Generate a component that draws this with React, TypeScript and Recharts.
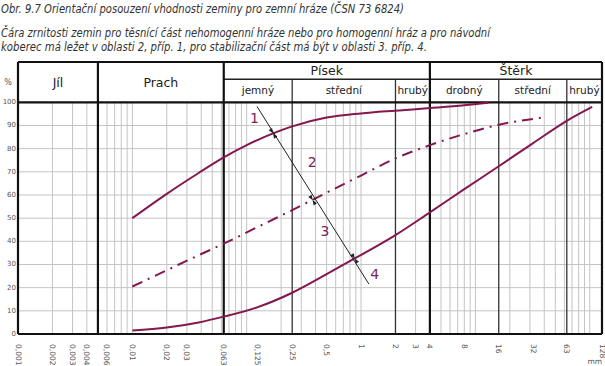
import {
  ComposedChart,
  Line,
  XAxis,
  YAxis,
  CartesianGrid,
  ReferenceLine,
  ReferenceArea,
  ReferenceDot,
} from 'recharts';

// grain size (mm) / passing (%)
const c1X = [0.01, 0.02, 0.038, 0.063, 0.1, 0.17, 0.25, 0.5, 1, 2, 4, 8, 13];
const c1Y = [50, 60.5, 69.5, 76.2, 81.5, 86.6, 89.6, 93.4, 95.2, 96.4, 97.5, 98.7, 99.8];
const c2X = [0.01, 0.02, 0.038, 0.063, 0.125, 0.25, 0.5, 1, 2, 4, 8, 16, 40];
const c2Y = [20.5, 27.5, 34, 39, 46.2, 53.5, 61, 68.4, 75.8, 81.5, 86.3, 90.3, 93.5];
const c3X = [0.01, 0.02, 0.038, 0.063, 0.125, 0.25, 0.5, 0.88, 2, 4, 8, 16, 32, 63, 105];
const c3Y = [1.5, 2.8, 5, 7.5, 11.6, 17.8, 25.8, 32.6, 42.7, 52.5, 62.5, 72.4, 82.4, 92, 98];

const xTicks = [0.001, 0.002, 0.003, 0.004, 0.006, 0.01, 0.02, 0.03, 0.063, 0.125, 0.25, 0.5, 1, 2, 3, 4, 8, 16, 32, 63, 128];
const yTicks = [0, 10, 20, 30, 40, 50, 60, 70, 80, 90, 100];

const headLabels = ['Jíl', 'Prach', 'Písek', 'Štěrk'];
const headBounds = [0.001, 0.005, 0.063, 4, 128];
const subLabels = ['jemný', 'střední', 'hrubý', 'drobný', 'střední', 'hrubý'];
const subBounds = [0.063, 0.25, 2, 4, 16, 63, 128];

// diagonal line and where it crosses the curves
const diagX = [0.123, 1.17];
const diagY = [98.2, 21.6];
const crossX = [0.17, 0.377, 0.88];
const crossY = [86.6, 57.8, 32.6];
const zoneLabels = ['1', '2', '3', '4'];
const zoneX = [0.117, 0.375, 0.484, 1.32];
const zoneY = [93.4, 74.4, 44.5, 25.8];

const TOP = 117.4;
const SUB = 110;
const COLOR = '#85174f';

const toRows = (xs: number[], ys: number[]) => xs.map((x, i) => ({ x, y: ys[i] }));
const curve1 = toRows(c1X, c1Y);
const curve2 = toRows(c2X, c2Y);
const curve3 = toRows(c3X, c3Y);

const gridX: number[] = [];
[0.001, 0.01, 0.1, 1, 10, 100].forEach((d) => {
  for (let k = 1; k <= 9; k++) {
    const v = +(d * k).toPrecision(3);
    if (v < 128) gridX.push(v);
  }
});

const XTick = ({ x, y, payload }: any) => (
  <text
    transform={`translate(${x},${y + 8}) rotate(90)`}
    textAnchor="start"
    dominantBaseline="central"
    fontSize={7.5}
    fill="#555"
  >
    {String(payload.value).replace('.', ',')}
  </text>
);

const YTick = ({ y, payload }: any) => (
  <text x={16} y={y} textAnchor="end" dominantBaseline="central" fontSize={7} fill="#555">
    {payload.value}
  </text>
);

const ANG = Math.atan2(1.59, 1);
const ArrowPair = ({ cx, cy }: any) => {
  const ux = Math.cos(ANG);
  const uy = Math.sin(ANG);
  const px = -uy;
  const py = ux;
  const tri = (s: number) => {
    const bx = cx + s * 5 * ux;
    const by = cy + s * 5 * uy;
    return `${cx},${cy} ${bx + 2 * px},${by + 2 * py} ${bx - 2 * px},${by - 2 * py}`;
  };
  return (
    <g>
      <polygon points={tri(-1)} fill="#222" />
      <polygon points={tri(1)} fill="#222" />
    </g>
  );
};

const ZoneLabel = (text: string) => ({ cx, cy }: any) => (
  <text x={cx} y={cy} textAnchor="middle" dominantBaseline="central" fontSize={14} fill="#7d2352">
    {text}
  </text>
);

export default function App() {
  return (
    <div style={{ position: 'absolute', left: 0, top: 0, width: 605, height: 366, background: '#fff' }}>
      <svg width={605} height={60} style={{ position: 'absolute', left: 0, top: 0 }} fontFamily="DejaVu Sans" fontStyle="italic" fill="#333">
        <text x={1} y={13} fontSize={12} textLength={403} lengthAdjust="spacingAndGlyphs">
          Obr. 9.7 Orientační posouzení vhodnosti zeminy pro zemní hráze (ČSN 73 6824)
        </text>
        <text x={1} y={36.5} fontSize={12} textLength={489} lengthAdjust="spacingAndGlyphs">
          Čára zrnitosti zemin pro těsnící část nehomogenní hráze nebo pro homogenní hráz a pro návodní
        </text>
        <text x={1} y={50.5} fontSize={12} textLength={426} lengthAdjust="spacingAndGlyphs">
          koberec má ležet v oblasti 2, příp. 1, pro stabilizační část má být v oblasti 3. příp. 4.
        </text>
      </svg>
      <ComposedChart
        width={605}
        height={366}
        margin={{ top: 62, right: 3, bottom: 0, left: 0 }}
        style={{ fontFamily: 'DejaVu Sans' }}
      >
        <CartesianGrid vertical={false} stroke="#c4c4c4" horizontalValues={[10, 20, 30, 40, 50, 60, 70, 80, 90]} />
        <XAxis
          dataKey="x"
          type="number"
          scale="log"
          domain={[0.001, 128]}
          allowDataOverflow
          ticks={xTicks}
          interval={0}
          height={32}
          tickSize={0}
          tickLine={false}
          axisLine={false}
          tick={<XTick />}
        />
        <YAxis
          type="number"
          domain={[0, TOP]}
          allowDataOverflow
          ticks={yTicks}
          interval={0}
          width={18}
          tickSize={0}
          tickLine={false}
          axisLine={false}
          tick={<YTick />}
        />
        {gridX.map((v) => (
          <ReferenceLine key={'g' + v} segment={[{ x: v, y: 0 }, { x: v, y: 100 }]} stroke="#c4c4c4" strokeWidth={1} />
        ))}
        {subBounds.slice(1, -1).map((v) => (
          <ReferenceLine key={'s' + v} segment={[{ x: v, y: 0 }, { x: v, y: SUB }]} stroke="#333" strokeWidth={1.3} />
        ))}
        <ReferenceLine segment={[{ x: 0.063, y: SUB }, { x: 128, y: SUB }]} stroke="#222" strokeWidth={1.5} />
        {headBounds.map((v) => (
          <ReferenceLine key={'h' + v} segment={[{ x: v, y: 0 }, { x: v, y: TOP }]} stroke="#111" strokeWidth={2.2} />
        ))}
        <ReferenceLine segment={[{ x: 0.001, y: TOP }, { x: 128, y: TOP }]} stroke="#111" strokeWidth={2.2} />
        <ReferenceLine segment={[{ x: 0.001, y: 100 }, { x: 128, y: 100 }]} stroke="#111" strokeWidth={2.2} />
        <ReferenceLine segment={[{ x: 0.001, y: 0 }, { x: 128, y: 0 }]} stroke="#111" strokeWidth={2.2} />
        {headLabels.map((t, i) => (
          <ReferenceArea
            key={'hl' + i}
            x1={headBounds[i]}
            x2={headBounds[i + 1]}
            y1={i < 2 ? 100 : SUB}
            y2={TOP}
            fill="none"
            stroke="none"
            label={{ value: t, position: 'center', fontSize: 12.5, fill: '#222' }}
          />
        ))}
        {subLabels.map((t, i) => (
          <ReferenceArea
            key={'sl' + i}
            x1={subBounds[i]}
            x2={subBounds[i + 1]}
            y1={100}
            y2={SUB}
            fill="none"
            stroke="none"
            label={{ value: t, position: 'center', fontSize: 10.5, fill: '#222' }}
          />
        ))}
        <Line data={curve1} dataKey="y" type="monotone" stroke={COLOR} strokeWidth={2} dot={false} activeDot={false} isAnimationActive={false} />
        <Line data={curve2} dataKey="y" type="monotone" stroke={COLOR} strokeWidth={2} strokeDasharray="11 6 2 6" dot={false} activeDot={false} isAnimationActive={false} />
        <Line data={curve3} dataKey="y" type="monotone" stroke={COLOR} strokeWidth={2} dot={false} activeDot={false} isAnimationActive={false} />
        <ReferenceLine
          segment={[{ x: diagX[0], y: diagY[0] }, { x: diagX[1], y: diagY[1] }]}
          stroke="#222"
          strokeWidth={1}
        />
        {crossX.map((x, i) => (
          <ReferenceDot key={'c' + i} x={x} y={crossY[i]} r={0} shape={<ArrowPair />} />
        ))}
        {zoneLabels.map((t, i) => (
          <ReferenceDot key={'z' + i} x={zoneX[i]} y={zoneY[i]} r={0} shape={ZoneLabel(t)} />
        ))}
      </ComposedChart>
      <svg width={605} height={366} style={{ position: 'absolute', left: 0, top: 0, pointerEvents: 'none' }} fontFamily="DejaVu Sans">
        <text x={8} y={82} fontSize={8} fill="#555" textAnchor="middle" dominantBaseline="central">%</text>
        <text x={602} y={361} fontSize={7.5} fill="#555" textAnchor="end" dominantBaseline="central">mm</text>
      </svg>
    </div>
  );
}
